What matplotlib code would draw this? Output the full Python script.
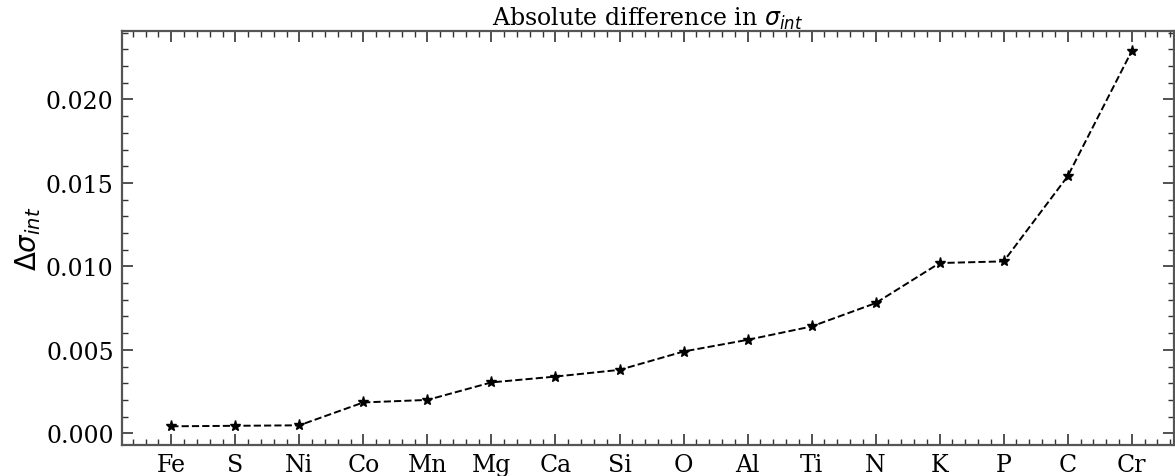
import matplotlib
matplotlib.use("Agg")
import matplotlib.pyplot as plt
from matplotlib.ticker import AutoMinorLocator

# --- dados ---
elements = ["Fe", "S", "Ni", "Co", "Mn", "Mg", "Ca", "Si", "O", "Al",
            "Ti", "N", "K", "P", "C", "Cr"]
delta_sigma = [0.00042, 0.00045, 0.00048, 0.00185, 0.0020, 0.00305, 0.0034,
               0.0038, 0.0049, 0.0056, 0.0064, 0.0078, 0.0102, 0.0103,
               0.0154, 0.0229]

plt.rcParams["font.family"] = "DejaVu Serif"
plt.rcParams["mathtext.fontset"] = "dejavusans"

fig = plt.figure(figsize=(11.75, 4.77), dpi=100)
ax = fig.add_axes([122 / 1175, 1 - 446 / 477, (1174 - 122) / 1175, (446 - 32) / 477])

x = list(range(len(elements)))
ax.plot(x, delta_sigma, ls="--", color="black", marker="*", ms=8, lw=1.4)

ax.set_xticks(x)
ax.set_xticklabels(elements)
ax.set_xlim(-0.77, 15.66)
ax.set_ylim(-0.0007, 0.0241)
ax.set_yticks([0.0, 0.005, 0.010, 0.015, 0.020])
ax.xaxis.set_minor_locator(AutoMinorLocator(5))
ax.yaxis.set_minor_locator(AutoMinorLocator(5))

for s in ax.spines.values():
    s.set_linewidth(1.6)
    s.set_color("#555555")
ax.tick_params(which="both", direction="in", top=True, right=True,
               color="#333333", labelsize=17)
ax.tick_params(which="major", length=8, width=1.2, pad=6)
ax.tick_params(which="minor", length=4, width=1.0)

ax.set_ylabel(r"$\Delta\sigma_{int}$", fontsize=20, labelpad=2)
ax.set_title(r"Absolute difference in $\sigma_{int}$", fontsize=17, pad=2)

fig.savefig("out.png", dpi=100)
